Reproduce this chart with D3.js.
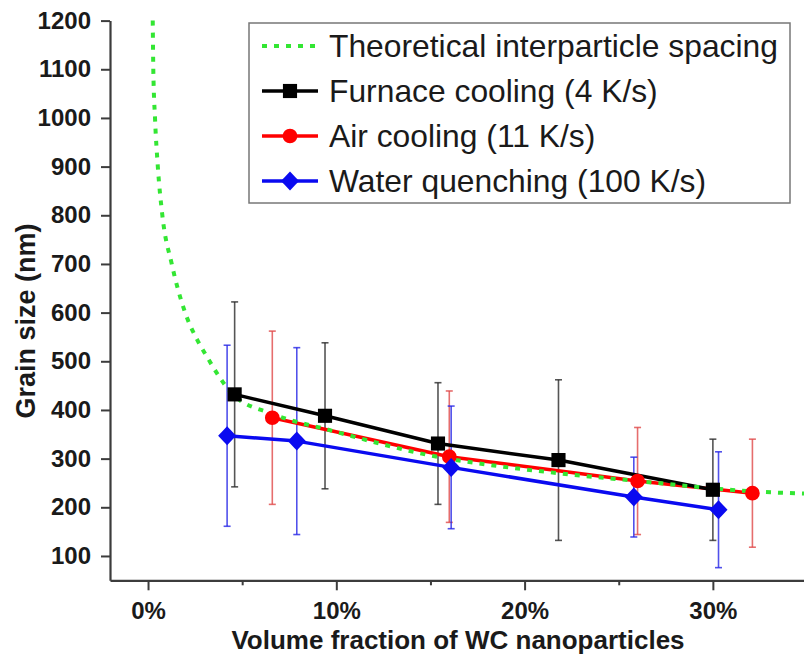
<!DOCTYPE html>
<html>
<head>
<meta charset="utf-8">
<script src="https://cdn.jsdelivr.net/npm/d3@7"></script>
<style>
  html, body { margin: 0; padding: 0; background: #fff; }
  svg { display: block; }
</style>
</head>
<body>
<svg id="chart" width="804" height="655"></svg>
<script>
// ---------- data ----------
const xTicks = [0, 10, 20, 30];
const xMinorTicks = [5, 15, 25];
const yTicks = [100, 200, 300, 400, 500, 600, 700, 800, 900, 1000, 1100, 1200];

const furnaceX = [4.6, 9.4, 15.4, 21.8, 30.0];
const furnaceY = [432, 388, 331, 297, 236];
const furnaceErr = [190, 150, 125, 165, 104];

const airX = [6.6, 16.0, 26.0, 32.1];
const airY = [384, 304, 254, 229];
const airErr = [178, 135, 110, 111];

const waterX = [4.2, 7.9, 16.1, 25.8, 30.3];
const waterY = [347, 336, 282, 221, 195];
const waterErr = [186, 192, 126, 82, 119];

const theoryX = [0.25, 0.28, 0.37, 0.52, 0.76, 1.26, 1.97, 2.6, 3.12, 3.82, 4.5, 6.6, 9.7, 15.9, 17.6, 21.8, 26, 30, 32, 35];
const theoryY = [1200, 1100, 1000, 900, 800, 700, 600, 545, 510, 466, 432, 392, 358, 300, 290, 270, 254, 239, 233, 228];

const legendLabels = ["Theoretical interparticle spacing", "Furnace cooling (4 K/s)", "Air cooling (11 K/s)", "Water quenching (100 K/s)"];

// ---------- setup ----------
const svg = d3.select("#chart");
svg.append("rect").attr("width", 804).attr("height", 655).attr("fill", "#fff");

const FONT = "'Liberation Sans', Arial, Helvetica, sans-serif";
const x = d3.scaleLinear().domain([-2.02, 34.84]).range([110, 804]);
const y = d3.scaleLinear().domain([50, 1200]).range([580.3, 20.6]);

const zip = (xs, ys, es) => xs.map((v, i) => ({x: v, y: ys[i], e: es ? es[i] : 0}));
const furnace = zip(furnaceX, furnaceY, furnaceErr);
const air = zip(airX, airY, airErr);
const water = zip(waterX, waterY, waterErr);
const theory = zip(theoryX, theoryY);

const series = [
  {data: furnace, color: "#000000", err: "#2a2a2a", shape: "square"},
  {data: air, color: "#ff0000", err: "#e04848", shape: "circle"},
  {data: water, color: "#0a0af0", err: "#2626e6", shape: "diamond"}
];

// ---------- axes ----------
const axisColor = "#3c3c3c";
const gx = svg.append("g").attr("transform", `translate(0,${y(50)})`)
  .call(d3.axisBottom(x).tickValues(xTicks).tickFormat(d => d + "%").tickSize(10).tickSizeOuter(0).tickPadding(12));
const gxm = svg.append("g").attr("transform", `translate(0,${y(50)})`)
  .call(d3.axisBottom(x).tickValues(xMinorTicks).tickFormat("").tickSize(5).tickSizeOuter(0));
gxm.select(".domain").remove();

const gy = svg.append("g").attr("transform", `translate(${x(-2.02)},0)`)
  .call(d3.axisLeft(y).tickValues(yTicks).tickFormat(d3.format("d")).tickSize(9).tickSizeOuter(0).tickPadding(10));

[gx, gxm, gy].forEach(g => {
  g.selectAll(".domain").attr("stroke", axisColor).attr("stroke-width", 2.2);
  g.selectAll(".tick line").attr("stroke", axisColor).attr("stroke-width", 2);
  g.selectAll("text").attr("font-family", FONT).attr("font-weight", "bold")
    .attr("font-size", 24).attr("fill", "#1a1a1a");
});

svg.append("text").attr("x", 458).attr("y", 649).attr("text-anchor", "middle")
  .attr("font-family", FONT).attr("font-weight", "bold").attr("font-size", 26).attr("fill", "#1a1a1a")
  .text("Volume fraction of WC nanoparticles");
svg.append("text").attr("transform", "translate(35,321) rotate(-90)").attr("text-anchor", "middle")
  .attr("font-family", FONT).attr("font-weight", "bold").attr("font-size", 27).attr("fill", "#1a1a1a")
  .text("Grain size (nm)");

// ---------- error bars ----------
series.forEach(s => {
  const g = svg.append("g").attr("stroke", s.err).attr("stroke-width", 1.6).attr("stroke-opacity", 0.8).attr("fill", "none");
  s.data.forEach(d => {
    const cx = x(d.x), t = y(d.y + d.e), b = y(d.y - d.e);
    g.append("line").attr("x1", cx).attr("x2", cx).attr("y1", t).attr("y2", b);
    g.append("line").attr("x1", cx - 3.5).attr("x2", cx + 3.5).attr("y1", t).attr("y2", t);
    g.append("line").attr("x1", cx - 3.5).attr("x2", cx + 3.5).attr("y1", b).attr("y2", b);
  });
});

// ---------- lines ----------
const line = d3.line().x(d => x(d.x)).y(d => y(d.y));
[series[1], series[2], series[0]].forEach(s => {
  svg.append("path").datum(s.data).attr("d", line).attr("fill", "none")
    .attr("stroke", s.color).attr("stroke-width", 3.5).attr("stroke-linejoin", "round");
});

const theoryLine = d3.line().x(d => x(d.x)).y(d => y(d.y)).curve(d3.curveMonotoneX);
svg.append("path").datum(theory).attr("d", theoryLine).attr("fill", "none")
  .attr("stroke", "#33e633").attr("stroke-width", 4).attr("stroke-dasharray", "5,7");

// ---------- markers ----------
const diamondPath = "M0,-9.5L9,0L0,9.5L-9,0Z";
const markerPath = {
  square: d3.symbol().type(d3.symbolSquare).size(200)(),
  circle: d3.symbol().type(d3.symbolCircle).size(170)(),
  diamond: diamondPath
};
series.forEach(s => {
  svg.append("g").selectAll("path").data(s.data).join("path")
    .attr("transform", d => `translate(${x(d.x)},${y(d.y)})`)
    .attr("d", markerPath[s.shape]).attr("fill", s.color);
});

// ---------- legend ----------
const lg = svg.append("g");
lg.append("rect").attr("x", 249).attr("y", 23).attr("width", 541).attr("height", 180)
  .attr("fill", "#fff").attr("stroke", "#777").attr("stroke-width", 1.5);
const rowY = [46, 91, 136, 181];
legendLabels.forEach((lab, i) => {
  const yy = rowY[i];
  if (i === 0) {
    lg.append("line").attr("x1", 262).attr("x2", 318).attr("y1", yy).attr("y2", yy)
      .attr("stroke", "#33e633").attr("stroke-width", 4).attr("stroke-dasharray", "5,7");
  } else {
    const s = series[i - 1];
    lg.append("line").attr("x1", 262).attr("x2", 318).attr("y1", yy).attr("y2", yy)
      .attr("stroke", s.color).attr("stroke-width", 3.5);
    lg.append("path").attr("transform", `translate(290,${yy})`).attr("d", markerPath[s.shape]).attr("fill", s.color);
  }
  lg.append("text").attr("x", 329).attr("y", yy).attr("dy", "0.36em")
    .attr("font-family", FONT).attr("font-size", 31.8).attr("fill", "#1a1a1a").text(lab);
});
</script>
</body>
</html>
